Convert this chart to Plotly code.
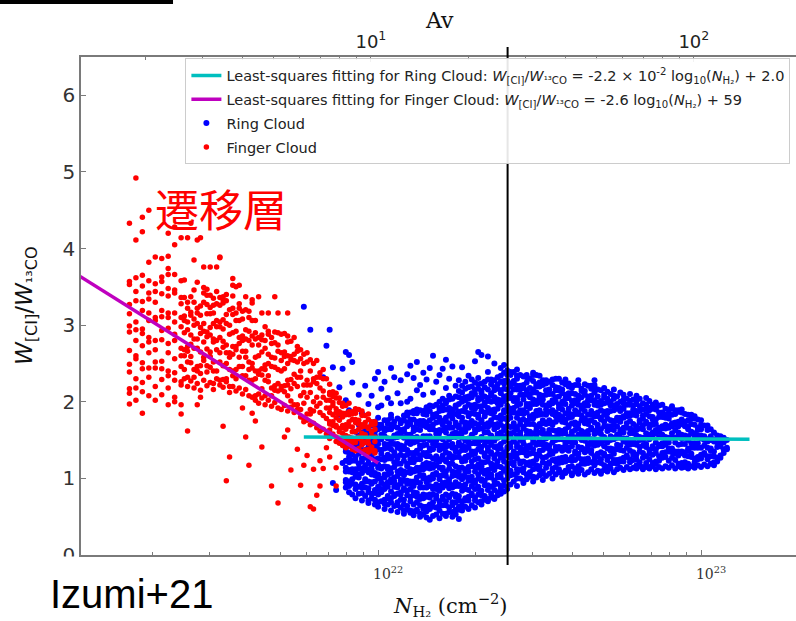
import numpy as np
import plotly.graph_objects as go

# ---------------------------------------------------------------------------
# Data: each column is (log10 N_H2 [cm^-2], W[CI]/W13CO values at that N_H2)
# ---------------------------------------------------------------------------
finger_columns = [
    (21.23, [1.97, 2.11, 2.17, 2.39, 2.49, 2.67, 2.91, 2.99, 3.15, 3.27, 3.53, 3.57, 4.33]),
    (21.25, [2.02, 2.18, 2.30, 2.56, 2.60, 2.80, 2.94, 3.04, 3.32, 3.44, 3.62, 4.92, 4.11]),
    (21.27, [1.85, 2.13, 2.25, 2.43, 2.51, 2.73, 2.89, 2.95, 3.19, 3.31, 3.51, 3.65, 4.22, 4.41]),
    (21.29, [2.08, 2.32, 2.44, 2.64, 2.78, 2.84, 3.06, 3.16, 3.34, 3.42, 3.58, 3.82, 4.50]),
    (21.31, [2.02, 2.20, 2.44, 2.52, 2.68, 2.80, 3.06, 3.10, 3.30, 3.44, 3.54, 3.89]),
    (21.33, [2.09, 2.29, 2.43, 2.53, 2.81, 2.93, 3.11, 3.19, 3.41, 3.57, 3.63, 3.87]),
    (21.35, [1.96, 2.18, 2.34, 2.40, 2.64, 2.76, 2.96, 3.10, 3.16, 3.38, 3.48, 3.66, 3.74, 3.90, 4.20]),
    (21.37, [2.00, 2.06, 2.28, 2.38, 2.56, 2.80, 2.88, 3.04, 3.16, 3.42, 3.46, 3.66, 4.05, 4.28]),
    (21.39, [1.84, 1.96, 2.22, 2.26, 2.46, 2.60, 2.70, 2.98, 3.10, 3.28, 3.36, 3.58, 4.14]),
    (21.40, [2.30, 2.42, 2.60, 2.68, 2.90, 3.06, 3.12, 3.36, 3.59]),
    (21.41, [2.20, 2.32, 2.52, 2.66, 2.72, 2.94, 3.04, 3.22, 3.30, 1.62, 4.14]),
    (21.42, [2.27, 2.51, 2.59, 2.75, 2.87, 3.13, 3.17, 3.37, 4.33]),
    (21.43, [2.18, 2.32, 2.42, 2.70, 2.82, 3.00, 3.08, 3.30, 3.46, 3.85]),
    (21.44, [2.24, 2.40, 2.46, 2.70, 2.82, 3.02, 3.16, 3.22, 1.96, 4.11, 3.56]),
    (21.45, [2.15, 2.37, 2.47, 2.65, 2.89, 2.97, 3.13, 3.25, 2.06, 4.14]),
    (21.46, [2.28, 2.54, 2.58, 2.78, 2.92, 3.02, 3.30, 3.42, 3.76, 3.49]),
    (21.47, [2.21, 2.39, 2.47, 2.69, 2.85, 2.91, 3.15, 3.27, 3.47, 3.39]),
    (21.48, [2.25, 2.45, 2.59, 2.65, 2.87, 2.97, 3.15, 3.23, 3.39, 3.76]),
    (21.49, [2.16, 2.24, 2.40, 2.52, 2.78, 2.82, 3.02, 3.16, 3.26, 3.35]),
    (21.50, [2.30, 2.40, 2.68, 2.80, 2.98, 3.06, 3.28, 3.44, 3.76]),
    (21.51, [2.22, 2.28, 2.52, 2.64, 2.84, 2.98, 3.04, 3.26, 3.36, 3.88, 3.89]),
    (21.52, [2.19, 2.29, 2.47, 2.71, 2.79, 2.95, 3.07, 3.33, 3.37, 1.68, 3.29]),
    (21.53, [2.26, 2.30, 2.50, 2.64, 2.74, 3.02, 3.14, 3.32, 3.40, 0.97]),
    (21.54, [2.12, 2.20, 2.42, 2.58, 2.64, 2.88, 3.00, 3.20, 1.28]),
    (21.55, [2.20, 2.34, 2.40, 2.62, 2.72, 2.90, 3.14, 3.22, 3.38, 3.61, 3.52]),
    (21.56, [2.14, 2.30, 2.42, 2.68, 2.72, 2.92, 3.06, 3.16, 3.50]),
    (21.57, [2.18, 2.46, 2.58, 2.76, 2.84, 3.06, 3.22, 3.28, 3.52]),
    (21.58, [2.10, 2.34, 2.46, 2.66, 2.80, 2.86, 3.08, 3.18, 1.92]),
    (21.59, [2.16, 2.34, 2.58, 2.66, 2.82, 2.94, 3.20, 1.54, 3.37]),
    (21.60, [2.08, 2.28, 2.42, 2.52, 2.80, 2.92, 3.10, 3.18, 1.17]),
    (21.61, [2.06, 2.28, 2.44, 2.50, 2.74, 2.86, 3.06, 1.85, 3.33, 3.29]),
    (21.62, [2.02, 2.08, 2.30, 2.40, 2.58, 2.82, 2.90, 3.06, 1.75]),
    (21.63, [1.98, 2.10, 2.36, 2.40, 2.60, 2.74, 2.84, 3.37]),
    (21.64, [2.05, 2.17, 2.35, 2.43, 2.65, 2.81, 2.87, 1.41, 3.16]),
    (21.65, [1.96, 2.08, 2.28, 2.42, 2.48, 2.70, 2.80, 2.98]),
    (21.66, [2.02, 2.26, 2.34, 2.50, 2.62, 2.88, 2.92, 3.16]),
    (21.67, [1.94, 2.08, 2.18, 2.46, 2.58, 2.76, 2.84, 0.90]),
    (21.68, [1.99, 2.15, 2.21, 2.45, 2.57, 2.77, 2.91, 3.37]),
    (21.69, [1.92, 2.14, 2.24, 2.42, 2.66, 2.74, 2.90, 3.16, 0.68]),
    (21.70, [1.90, 2.16, 2.20, 2.40, 2.54, 2.64, 2.88]),
    (21.71, [1.95, 2.13, 2.21, 2.43, 2.59, 2.65, 2.89, 1.54]),
    (21.72, [1.88, 2.08, 2.22, 2.28, 2.50, 2.60, 2.78, 2.86, 1.63, 3.16]),
    (21.73, [1.93, 2.01, 2.17, 2.29, 2.55, 2.59, 2.79, 1.11]),
    (21.74, [1.86, 1.96, 2.24, 2.36, 2.54, 2.62, 2.84]),
    (21.75, [1.90, 1.96, 2.20, 2.32, 2.52, 2.66, 2.72, 1.38]),
    (21.76, [1.80, 1.90, 2.08, 2.32, 2.40, 2.56, 2.68, 0.91]),
    (21.77, [1.74, 1.78, 1.98, 2.12, 2.22, 2.50, 2.62, 1.17]),
    (21.78, [1.76, 1.84, 2.06, 2.22, 2.28, 2.52, 2.64, 1.30]),
    (21.79, [1.70, 1.84, 1.90, 2.12, 2.22, 2.40, 0.63, 2.55]),
    (21.80, [1.72, 1.88, 2.00, 2.26, 2.30, 2.50, 0.60, 1.12]),
    (21.81, [1.66, 1.94, 2.06, 2.24, 2.32, 2.54, 0.78]),
    (21.82, [1.62, 1.86, 1.98, 2.18, 2.32, 2.38, 0.90, 1.23]),
    (21.83, [1.64, 1.82, 2.06, 2.14, 2.30, 2.42, 1.13]),
    (21.84, [1.58, 1.78, 1.92, 2.02, 2.30, 1.40]),
    (21.85, [1.52, 1.63, 1.71, 1.74, 1.86, 1.92, 2.02, 2.09, 2.12, 2.23, 1.28]),
    (21.86, [1.55, 1.58, 1.69, 1.74, 1.83, 1.95, 1.99, 2.07, 2.13]),
    (21.87, [1.48, 1.54, 1.67, 1.69, 1.79, 1.86, 1.91, 2.05, 2.11, 1.14, 0.90]),
    (21.88, [1.46, 1.52, 1.61, 1.65, 1.76, 1.84, 1.87, 1.99, 2.05]),
    (21.89, [1.43, 1.49, 1.59, 1.66, 1.69, 1.80, 1.85, 1.94, 1.98]),
    (21.90, [1.40, 1.52, 1.56, 1.64, 1.70, 1.83, 1.85, 1.95]),
    (21.91, [1.42, 1.49, 1.54, 1.68, 1.74, 1.83, 1.87, 1.98]),
    (21.92, [1.38, 1.46, 1.49, 1.61, 1.67, 1.77, 1.84, 1.87]),
    (21.93, [1.36, 1.47, 1.52, 1.61, 1.73, 1.77, 1.85, 1.91]),
    (21.94, [1.39, 1.52, 1.54, 1.64, 1.71, 1.76, 1.90]),
    (21.95, [1.35, 1.44, 1.48, 1.59, 1.67, 1.70, 1.82, 1.88]),
    (21.96, [1.37, 1.47, 1.54, 1.57, 1.68, 1.73, 1.82]),
    (21.97, [1.34, 1.38, 1.46, 1.52, 1.65, 1.67, 1.77, 1.84]),
    (21.98, [1.36, 1.41, 1.55, 1.61, 1.70, 1.74]),
    (21.99, [1.33, 1.36, 1.48, 1.54, 1.64, 1.71, 1.74]),
]

ring_columns = [
    (21.77, [3.24]),
    (21.79, [2.94]),
    (21.83, [2.32]),
    (21.84, [2.73]),
    (21.85, [2.94, 1.55]),
    (21.86, [2.45, 0.94]),
    (21.87, [0.85]),
    (21.88, [2.19, 1.83]),
    (21.89, [2.43, 1.20]),
    (21.90, [0.88, 0.95, 0.98, 1.09, 1.14, 1.23, 1.35, 1.39, 1.47, 1.53, 2.65, 2.02]),
    (21.91, [0.82, 0.90, 0.96, 1.09, 1.11, 1.21, 1.28, 1.33, 1.47, 1.53, 2.61, 1.89]),
    (21.92, [0.79, 0.93, 0.99, 1.08, 1.12, 1.23, 1.31, 1.34, 1.46, 1.52, 2.52, 2.25]),
    (21.93, [0.74, 0.86, 0.92, 1.02, 1.09, 1.12, 1.23, 1.28, 1.37, 1.41, 1.49, 1.61]),
    (21.94, [0.80, 0.89, 1.01, 1.05, 1.13, 1.19, 1.32, 1.34, 1.44, 1.51, 1.56, 1.70, 2.09]),
    (21.95, [0.71, 0.81, 0.88, 0.93, 1.07, 1.13, 1.22, 1.26, 1.37, 1.45, 1.48, 1.60, 1.85]),
    (21.96, [0.77, 0.88, 0.96, 0.99, 1.11, 1.17, 1.27, 1.34, 1.37, 1.48, 1.53, 1.62, 1.66, 2.21]),
    (21.97, [0.68, 0.71, 0.82, 0.87, 0.96, 1.08, 1.12, 1.20, 1.26, 1.39, 1.41, 1.51, 1.58, 1.63, 1.97]),
    (21.98, [0.74, 0.80, 0.93, 0.95, 1.05, 1.12, 1.17, 1.31, 1.37, 1.46, 1.50, 1.61, 1.69, 1.72, 2.08]),
    (21.99, [0.66, 0.72, 0.81, 0.85, 0.96, 1.04, 1.07, 1.19, 1.25, 1.35, 1.42, 1.45, 1.56, 1.61, 1.70, 1.74, 2.30]),
    (22.00, [0.63, 0.69, 0.79, 0.86, 0.89, 1.00, 1.05, 1.14, 1.18, 1.26, 1.38, 1.45, 1.50, 1.64, 1.70, 1.79, 2.39, 1.93]),
    (22.01, [0.70, 0.82, 0.86, 0.94, 1.00, 1.13, 1.15, 1.25, 1.32, 1.37, 1.51, 1.57, 1.66, 1.70, 2.17, 1.95]),
    (22.02, [0.60, 0.67, 0.72, 0.86, 0.92, 1.01, 1.05, 1.16, 1.24, 1.27, 1.39, 1.45, 1.55, 1.62, 1.65, 1.76, 2.26]),
    (22.03, [0.66, 0.74, 0.77, 0.89, 0.95, 1.05, 1.12, 1.15, 1.26, 1.31, 1.40, 1.44, 1.52, 1.64, 1.71, 1.76, 2.05]),
    (22.04, [0.58, 0.69, 0.74, 0.83, 0.95, 0.99, 1.07, 1.13, 1.26, 1.28, 1.38, 1.45, 1.50, 1.64, 1.70, 1.79, 1.83, 2.44, 1.98]),
    (22.05, [0.64, 0.77, 0.79, 0.89, 0.96, 1.01, 1.15, 1.21, 1.30, 1.34, 1.45, 1.53, 1.56, 1.68, 1.74, 2.32]),
    (22.06, [0.56, 0.65, 0.69, 0.80, 0.88, 0.91, 1.03, 1.09, 1.19, 1.26, 1.29, 1.40, 1.45, 1.54, 1.58, 1.66, 1.78, 2.11]),
    (22.07, [0.62, 0.72, 0.79, 0.82, 0.93, 0.98, 1.07, 1.11, 1.19, 1.31, 1.38, 1.43, 1.57, 1.63, 1.72, 1.76, 1.98, 2.28]),
    (22.08, [0.54, 0.58, 0.66, 0.72, 0.85, 0.87, 0.97, 1.04, 1.09, 1.23, 1.29, 1.38, 1.42, 1.53, 1.61, 1.64, 1.76, 1.82]),
    (22.09, [0.59, 0.64, 0.78, 0.84, 0.93, 0.97, 1.08, 1.16, 1.19, 1.31, 1.37, 1.47, 1.54, 1.57, 1.68, 1.73, 1.82, 1.86, 2.00, 2.36]),
    (22.10, [0.55, 0.58, 0.70, 0.76, 0.86, 0.93, 0.96, 1.07, 1.12, 1.21, 1.25, 1.33, 1.45, 1.52, 1.57, 1.71, 1.77, 1.86, 2.04, 2.47]),
    (22.11, [0.52, 0.57, 0.66, 0.78, 0.82, 0.90, 0.96, 1.09, 1.11, 1.21, 1.28, 1.33, 1.47, 1.53, 1.62, 1.66, 1.77, 1.85, 1.88, 2.31]),
    (22.12, [0.57, 0.59, 0.69, 0.76, 0.81, 0.95, 1.01, 1.10, 1.14, 1.25, 1.33, 1.36, 1.48, 1.54, 1.64, 1.71, 1.74, 1.85, 1.90, 2.15, 2.52]),
    (22.13, [0.50, 0.54, 0.65, 0.73, 0.76, 0.88, 0.94, 1.04, 1.11, 1.14, 1.25, 1.30, 1.39, 1.43, 1.51, 1.63, 1.70, 1.75, 1.89, 2.22]),
    (22.14, [0.53, 0.60, 0.63, 0.74, 0.79, 0.88, 1.00, 1.04, 1.12, 1.18, 1.31, 1.33, 1.43, 1.50, 1.55, 1.69, 1.75, 1.84, 1.88, 2.38, 2.09]),
    (22.15, [0.49, 0.57, 0.63, 0.76, 0.78, 0.88, 0.95, 1.00, 1.14, 1.20, 1.29, 1.33, 1.44, 1.52, 1.55, 1.67, 1.73, 1.83, 1.90, 1.93, 2.29]),
    (22.16, [0.46, 0.60, 0.66, 0.75, 0.79, 0.90, 0.98, 1.01, 1.13, 1.19, 1.29, 1.36, 1.39, 1.50, 1.55, 1.64, 1.68, 1.76, 1.88, 1.95, 2.44]),
    (22.17, [0.51, 0.63, 0.69, 0.79, 0.86, 0.89, 1.00, 1.05, 1.14, 1.18, 1.26, 1.38, 1.45, 1.50, 1.64, 1.70, 1.79, 1.83, 1.94, 2.12, 2.60]),
    (22.18, [0.53, 0.62, 0.74, 0.78, 0.86, 0.92, 1.05, 1.07, 1.17, 1.24, 1.29, 1.43, 1.49, 1.58, 1.62, 1.73, 1.81, 1.84, 1.96, 2.26]),
    (22.19, [0.48, 0.58, 0.65, 0.70, 0.84, 0.90, 0.99, 1.03, 1.14, 1.22, 1.25, 1.37, 1.43, 1.53, 1.60, 1.63, 1.74, 1.79, 1.88, 1.92, 2.00, 2.35]),
    (22.20, [0.54, 0.65, 0.73, 0.76, 0.88, 0.94, 1.04, 1.11, 1.14, 1.25, 1.30, 1.39, 1.43, 1.51, 1.63, 1.70, 1.75, 1.89, 1.95, 2.04, 2.43]),
    (22.21, [0.51, 0.54, 0.65, 0.70, 0.79, 0.91, 0.95, 1.03, 1.09, 1.22, 1.24, 1.34, 1.41, 1.46, 1.60, 1.66, 1.75, 1.79, 1.90, 1.98, 2.01, 2.18, 2.55]),
    (22.22, [0.56, 0.62, 0.75, 0.77, 0.87, 0.94, 0.99, 1.13, 1.19, 1.28, 1.32, 1.43, 1.51, 1.54, 1.66, 1.72, 1.82, 1.89, 1.92, 2.03, 2.08, 2.30]),
    (22.23, [0.50, 0.56, 0.65, 0.69, 0.80, 0.88, 0.91, 1.03, 1.09, 1.19, 1.26, 1.29, 1.40, 1.45, 1.54, 1.58, 1.66, 1.78, 1.85, 1.90, 2.04, 2.46]),
    (22.24, [0.53, 0.59, 0.69, 0.76, 0.79, 0.90, 0.95, 1.04, 1.08, 1.16, 1.28, 1.35, 1.40, 1.54, 1.60, 1.69, 1.73, 1.84, 1.92, 1.95, 2.07, 2.21]),
    (22.25, [0.47, 0.59, 0.63, 0.71, 0.77, 0.90, 0.92, 1.02, 1.09, 1.14, 1.28, 1.34, 1.43, 1.47, 1.58, 1.66, 1.69, 1.81, 1.87, 1.97, 2.06, 2.14, 2.28]),
    (22.26, [0.58, 0.65, 0.70, 0.84, 0.90, 0.99, 1.03, 1.14, 1.22, 1.25, 1.37, 1.43, 1.53, 1.60, 1.63, 1.74, 1.79, 1.88, 2.00, 2.04, 2.12, 2.21, 2.45]),
    (22.27, [0.63, 0.71, 0.74, 0.86, 0.92, 1.02, 1.09, 1.12, 1.23, 1.28, 1.37, 1.41, 1.49, 1.61, 1.68, 1.73, 1.87, 1.93, 2.02, 2.06, 2.17, 2.26]),
    (22.28, [0.60, 0.71, 0.76, 0.85, 0.97, 1.01, 1.09, 1.15, 1.28, 1.30, 1.40, 1.47, 1.52, 1.66, 1.72, 1.81, 1.85, 1.96, 2.04, 2.07, 2.19, 2.34]),
    (22.29, [0.65, 0.78, 0.80, 0.90, 0.97, 1.02, 1.16, 1.22, 1.31, 1.35, 1.46, 1.54, 1.57, 1.69, 1.75, 1.85, 1.92, 1.95, 2.06, 2.11, 2.20, 2.29]),
    (22.30, [0.62, 0.71, 0.75, 0.86, 0.94, 0.97, 1.09, 1.15, 1.25, 1.32, 1.35, 1.46, 1.51, 1.60, 1.64, 1.72, 1.84, 1.91, 1.96, 2.10, 2.16, 2.25, 2.53]),
    (22.31, [0.69, 0.79, 0.86, 0.89, 1.00, 1.05, 1.14, 1.18, 1.26, 1.38, 1.45, 1.50, 1.64, 1.70, 1.79, 1.83, 1.94, 2.02, 2.05, 2.17, 2.23, 2.31, 2.65]),
    (22.32, [0.66, 0.70, 0.78, 0.84, 0.97, 0.99, 1.09, 1.16, 1.21, 1.35, 1.41, 1.50, 1.54, 1.65, 1.73, 1.76, 1.88, 1.94, 2.04, 2.11, 2.14, 2.24, 2.61]),
    (22.33, [0.72, 0.77, 0.91, 0.97, 1.06, 1.10, 1.21, 1.29, 1.32, 1.44, 1.50, 1.60, 1.67, 1.70, 1.81, 1.86, 1.95, 1.99, 2.07, 2.19, 2.26]),
    (22.34, [0.70, 0.73, 0.85, 0.91, 1.01, 1.08, 1.11, 1.22, 1.27, 1.36, 1.40, 1.48, 1.60, 1.67, 1.72, 1.86, 1.92, 2.01, 2.05, 2.16, 2.29, 2.39, 2.59]),
    (22.35, [0.75, 0.80, 0.89, 1.01, 1.05, 1.13, 1.19, 1.32, 1.34, 1.44, 1.51, 1.56, 1.70, 1.76, 1.85, 1.89, 2.00, 2.08, 2.11, 2.23, 2.29]),
    (22.36, [0.73, 0.75, 0.85, 0.92, 0.97, 1.11, 1.17, 1.26, 1.30, 1.41, 1.49, 1.52, 1.64, 1.70, 1.80, 1.87, 1.90, 2.01, 2.06, 2.15, 2.19, 2.28, 2.50]),
    (22.37, [0.78, 0.82, 0.93, 1.01, 1.04, 1.16, 1.22, 1.32, 1.39, 1.42, 1.53, 1.58, 1.67, 1.71, 1.79, 1.91, 1.98, 2.03, 2.17, 2.23, 2.32]),
    (22.38, [0.80, 0.87, 0.90, 1.01, 1.06, 1.15, 1.27, 1.31, 1.39, 1.45, 1.58, 1.60, 1.70, 1.77, 1.82, 1.96, 2.02, 2.11, 2.15, 2.26, 2.34, 2.44]),
    (22.39, [0.83, 0.91, 0.97, 1.10, 1.12, 1.22, 1.29, 1.34, 1.48, 1.54, 1.63, 1.67, 1.78, 1.86, 1.89, 2.01, 2.07, 2.17, 2.24, 2.27, 2.38, 2.48]),
    (22.40, [0.86, 1.00, 1.06, 1.15, 1.19, 1.30, 1.38, 1.41, 1.53, 1.59, 1.69, 1.76, 1.79, 1.90, 1.95, 2.04, 2.08, 2.16, 2.28, 2.35, 2.41]),
    (22.41, [0.92, 1.04, 1.10, 1.20, 1.27, 1.30, 1.41, 1.46, 1.55, 1.59, 1.67, 1.79, 1.86, 1.91, 2.05, 2.11, 2.20, 2.24, 2.35, 2.39]),
    (22.42, [0.96, 1.05, 1.17, 1.21, 1.29, 1.35, 1.48, 1.50, 1.60, 1.67, 1.72, 1.86, 1.92, 2.01, 2.05, 2.16, 2.24, 2.27, 2.39]),
    (22.43, [0.90, 1.00, 1.07, 1.12, 1.26, 1.32, 1.41, 1.45, 1.56, 1.64, 1.67, 1.79, 1.85, 1.95, 2.02, 2.05, 2.16, 2.21, 2.30, 2.34, 2.42]),
    (22.44, [1.00, 1.11, 1.19, 1.22, 1.34, 1.40, 1.50, 1.57, 1.60, 1.71, 1.76, 1.85, 1.89, 1.97, 2.09, 2.16, 2.21, 2.35]),
    (22.45, [0.94, 0.97, 1.08, 1.13, 1.22, 1.34, 1.38, 1.46, 1.52, 1.65, 1.67, 1.77, 1.84, 1.89, 2.03, 2.09, 2.18, 2.22, 2.33]),
    (22.46, [0.99, 1.05, 1.18, 1.20, 1.30, 1.37, 1.42, 1.56, 1.62, 1.71, 1.75, 1.86, 1.94, 1.97, 2.09, 2.15, 2.25, 2.32, 2.35]),
    (22.47, [1.02, 1.08, 1.17, 1.21, 1.32, 1.40, 1.43, 1.55, 1.61, 1.71, 1.78, 1.81, 1.92, 1.97, 2.06, 2.10, 2.18, 2.30]),
    (22.48, [0.96, 1.02, 1.12, 1.19, 1.22, 1.33, 1.38, 1.47, 1.51, 1.59, 1.71, 1.78, 1.83, 1.97, 2.03, 2.12, 2.16, 2.27, 2.35, 2.38]),
    (22.49, [1.01, 1.13, 1.17, 1.25, 1.31, 1.44, 1.46, 1.56, 1.63, 1.68, 1.82, 1.88, 1.97, 2.01, 2.12, 2.20, 2.23, 2.35]),
    (22.50, [1.04, 1.11, 1.16, 1.30, 1.36, 1.45, 1.49, 1.60, 1.68, 1.71, 1.83, 1.89, 1.99, 2.06, 2.09, 2.20, 2.25, 2.34]),
    (22.51, [0.98, 1.06, 1.09, 1.21, 1.27, 1.37, 1.44, 1.47, 1.58, 1.63, 1.72, 1.76, 1.84, 1.96, 2.03, 2.08, 2.22, 2.28]),
    (22.52, [1.03, 1.14, 1.19, 1.28, 1.40, 1.44, 1.52, 1.58, 1.71, 1.73, 1.83, 1.90, 1.95, 2.09, 2.15, 2.24, 2.28]),
    (22.53, [1.06, 1.19, 1.21, 1.31, 1.38, 1.43, 1.57, 1.63, 1.72, 1.76, 1.87, 1.95, 1.98, 2.10, 2.16, 2.26]),
    (22.54, [1.00, 1.09, 1.13, 1.24, 1.32, 1.35, 1.47, 1.53, 1.63, 1.70, 1.73, 1.84, 1.89, 1.98, 2.02, 2.10, 2.22, 2.29]),
    (22.55, [1.05, 1.15, 1.22, 1.25, 1.36, 1.41, 1.50, 1.54, 1.62, 1.74, 1.81, 1.86, 2.00, 2.06, 2.15, 2.19, 2.30]),
    (22.56, [1.08, 1.12, 1.20, 1.26, 1.39, 1.41, 1.51, 1.58, 1.63, 1.77, 1.83, 1.92, 1.96, 2.07, 2.15, 2.18, 2.30]),
    (22.57, [1.02, 1.07, 1.21, 1.27, 1.36, 1.40, 1.51, 1.59, 1.62, 1.74, 1.80, 1.90, 1.97, 2.00, 2.11, 2.16, 2.25]),
    (22.58, [1.07, 1.10, 1.22, 1.28, 1.38, 1.45, 1.48, 1.59, 1.64, 1.73, 1.77, 1.85, 1.97, 2.04, 2.09, 2.23, 2.29]),
    (22.59, [1.10, 1.15, 1.24, 1.36, 1.40, 1.48, 1.54, 1.67, 1.69, 1.79, 1.86, 1.91, 2.05, 2.11, 2.20, 2.24]),
    (22.60, [1.04, 1.06, 1.16, 1.23, 1.28, 1.42, 1.48, 1.57, 1.61, 1.72, 1.80, 1.83, 1.95, 2.01, 2.11, 2.18, 2.21]),
    (22.61, [1.09, 1.13, 1.24, 1.32, 1.35, 1.47, 1.53, 1.63, 1.70, 1.73, 1.84, 1.89, 1.98, 2.02, 2.10, 2.22]),
    (22.62, [1.06, 1.13, 1.16, 1.27, 1.32, 1.41, 1.53, 1.57, 1.65, 1.71, 1.84, 1.86, 1.96, 2.03, 2.08, 2.22, 2.28]),
    (22.63, [1.11, 1.19, 1.25, 1.38, 1.40, 1.50, 1.57, 1.62, 1.76, 1.82, 1.91, 1.95, 2.06, 2.14, 2.17]),
    (22.64, [1.05, 1.19, 1.25, 1.34, 1.38, 1.49, 1.57, 1.60, 1.72, 1.78, 1.88, 1.95, 1.98, 2.09, 2.14, 2.23]),
    (22.65, [1.08, 1.20, 1.26, 1.36, 1.43, 1.46, 1.57, 1.62, 1.71, 1.75, 1.83, 1.95, 2.02, 2.07, 2.21]),
    (22.66, [1.12, 1.21, 1.33, 1.37, 1.45, 1.51, 1.64, 1.66, 1.76, 1.83, 1.88, 2.02, 2.08, 2.17, 2.21]),
    (22.67, [1.07, 1.17, 1.24, 1.29, 1.43, 1.49, 1.58, 1.62, 1.73, 1.81, 1.84, 1.96, 2.02, 2.12, 2.19, 2.22, 2.28]),
    (22.68, [1.10, 1.21, 1.29, 1.32, 1.44, 1.50, 1.60, 1.67, 1.70, 1.81, 1.86, 1.95, 1.99, 2.07, 2.16]),
    (22.69, [1.06, 1.09, 1.20, 1.25, 1.34, 1.46, 1.50, 1.58, 1.64, 1.77, 1.79, 1.89, 1.96, 2.01, 2.15]),
    (22.70, [1.11, 1.17, 1.30, 1.32, 1.42, 1.49, 1.54, 1.68, 1.74, 1.83, 1.87, 1.98, 2.06, 2.09, 2.18]),
    (22.71, [1.09, 1.15, 1.24, 1.28, 1.39, 1.47, 1.50, 1.62, 1.68, 1.78, 1.85, 1.88, 1.99, 2.04, 2.13]),
    (22.72, [1.13, 1.19, 1.29, 1.36, 1.39, 1.50, 1.55, 1.64, 1.68, 1.76, 1.88, 1.95, 2.00, 2.10]),
    (22.73, [1.08, 1.20, 1.24, 1.32, 1.38, 1.51, 1.53, 1.63, 1.70, 1.75, 1.89, 1.95, 2.04, 2.08, 2.16]),
    (22.74, [1.12, 1.19, 1.24, 1.38, 1.44, 1.53, 1.57, 1.68, 1.76, 1.79, 1.91, 1.97, 2.07]),
    (22.75, [1.14, 1.22, 1.25, 1.37, 1.43, 1.53, 1.60, 1.63, 1.74, 1.79, 1.88, 1.92, 2.00, 2.12]),
    (22.76, [1.11, 1.22, 1.27, 1.36, 1.48, 1.52, 1.60, 1.66, 1.79, 1.81, 1.91, 1.98, 2.03, 2.09]),
    (22.77, [1.15, 1.28, 1.30, 1.40, 1.47, 1.52, 1.66, 1.72, 1.81, 1.85, 1.96, 2.04]),
    (22.78, [1.12, 1.21, 1.25, 1.36, 1.44, 1.47, 1.59, 1.65, 1.75, 1.82, 1.85, 1.96, 2.01, 2.10]),
    (22.79, [1.14, 1.24, 1.31, 1.34, 1.45, 1.50, 1.59, 1.63, 1.71, 1.83, 1.90, 1.95, 2.03]),
    (22.80, [1.13, 1.17, 1.25, 1.31, 1.44, 1.46, 1.56, 1.63, 1.68, 1.82, 1.88, 1.97, 2.01, 2.08]),
    (22.81, [1.16, 1.21, 1.35, 1.41, 1.50, 1.54, 1.65, 1.73, 1.76, 1.88, 1.94, 2.04]),
    (22.82, [1.12, 1.15, 1.27, 1.33, 1.43, 1.50, 1.53, 1.64, 1.69, 1.78, 1.82, 1.90, 1.98]),
    (22.83, [1.15, 1.20, 1.29, 1.41, 1.45, 1.53, 1.59, 1.72, 1.74, 1.84, 1.91, 1.96, 2.05]),
    (22.84, [1.13, 1.15, 1.25, 1.32, 1.37, 1.51, 1.57, 1.66, 1.70, 1.81, 1.89, 1.92, 2.01]),
    (22.85, [1.16, 1.20, 1.31, 1.39, 1.42, 1.54, 1.60, 1.70, 1.77, 1.80, 1.91, 1.96]),
    (22.86, [1.12, 1.19, 1.22, 1.33, 1.38, 1.47, 1.59, 1.63, 1.71, 1.77, 1.90, 1.92, 1.99]),
    (22.87, [1.15, 1.23, 1.29, 1.42, 1.44, 1.54, 1.61, 1.66, 1.80, 1.86, 1.95]),
    (22.88, [1.13, 1.27, 1.33, 1.42, 1.46, 1.57, 1.65, 1.68, 1.80, 1.86, 1.96]),
    (22.89, [1.16, 1.28, 1.34, 1.44, 1.51, 1.54, 1.65, 1.70, 1.79, 1.83, 1.91]),
    (22.90, [1.14, 1.23, 1.35, 1.39, 1.47, 1.53, 1.66, 1.68, 1.78, 1.85, 1.90]),
    (22.91, [1.17, 1.27, 1.34, 1.39, 1.53, 1.59, 1.68, 1.72, 1.83, 1.91, 1.94]),
    (22.92, [1.13, 1.24, 1.32, 1.35, 1.47, 1.53, 1.63, 1.70, 1.73, 1.84, 1.89]),
    (22.93, [1.16, 1.19, 1.30, 1.35, 1.44, 1.56, 1.60, 1.68, 1.74, 1.87, 1.89]),
    (22.94, [1.14, 1.20, 1.33, 1.35, 1.45, 1.52, 1.57, 1.71, 1.77, 1.86, 1.90]),
    (22.95, [1.15, 1.21, 1.30, 1.34, 1.45, 1.53, 1.56, 1.68, 1.74, 1.84]),
    (22.96, [1.13, 1.19, 1.29, 1.36, 1.39, 1.50, 1.55, 1.64, 1.68, 1.76, 1.83]),
    (22.97, [1.16, 1.28, 1.32, 1.40, 1.46, 1.59, 1.61, 1.71, 1.78, 1.83]),
    (22.98, [1.14, 1.21, 1.26, 1.40, 1.46, 1.55, 1.59, 1.70, 1.78, 1.81]),
    (22.99, [1.17, 1.25, 1.28, 1.40, 1.46, 1.56, 1.63, 1.66, 1.77]),
    (23.00, [1.15, 1.26, 1.31, 1.40, 1.52, 1.56, 1.64, 1.70, 1.76]),
    (23.01, [1.18, 1.31, 1.33, 1.43, 1.50, 1.55, 1.69]),
    (23.02, [1.16, 1.25, 1.29, 1.40, 1.48, 1.51, 1.63, 1.69]),
    (23.03, [1.19, 1.29, 1.36, 1.39, 1.50, 1.55, 1.64]),
    (23.04, [1.17, 1.21, 1.29, 1.35, 1.48, 1.50, 1.60]),
    (23.05, [1.22, 1.27, 1.41, 1.47, 1.56]),
    (23.06, [1.27, 1.30, 1.42, 1.48, 1.55]),
    (23.07, [1.33, 1.38, 1.47, 1.53]),
    (23.08, [1.38, 1.40, 1.50]),
]

# Least-squares fits: ratio = slope * log10(N_H2) + intercept
ring_fit = {"slope": -0.022, "intercept": 2.02, "int_digits": 1, "logN": [21.77, 23.15]}
finger_fit = {"slope": -2.64, "intercept": 59.28, "int_digits": 0, "logN": [21.00, 22.00]}

# Column density per unit visual extinction (N_H2 / Av), used for the top axis
NH2_PER_AV = 9.5e20
# Av value marked by the vertical line
AV_MARK = 26.5

X_RANGE_LOG = [21.08, 23.294]
Y_RANGE = [0, 6.5]

BLUE = "#0000ff"
RED = "#ff0000"
CYAN = "#00bfbf"
MAGENTA = "#bf00bf"
AXIS_GREY = "#7a7a7a"


def flatten(columns):
    xs, ys = [], []
    for logn, vals in columns:
        for v in vals:
            xs.append(10 ** logn)
            ys.append(v)
    return xs, ys


def fit_line(fit):
    xs = [10 ** a for a in fit["logN"]]
    ys = [fit["slope"] * a + fit["intercept"] for a in fit["logN"]]
    return xs, ys


def coef_text(v):
    e = int(np.floor(np.log10(abs(v))))
    if e >= -1:
        return f"{v:.1f}"
    return f"{v / 10 ** e:.1f} × 10<sup>{e}</sup>"


RATIO = "<i>W</i><sub>[CI]</sub>/<i>W</i><sub>¹³CO</sub>"
NH2 = "<i>N</i><sub>H₂</sub>"


def fit_label(name, fit):
    b = f"{fit['intercept']:.{fit['int_digits']}f}"
    return (f"Least-squares fitting for {name}: {RATIO} = "
            f"{coef_text(fit['slope'])} log<sub>10</sub>({NH2}) + {b}")


ring_x, ring_y = flatten(ring_columns)
finger_x, finger_y = flatten(finger_columns)
rfx, rfy = fit_line(ring_fit)
ffx, ffy = fit_line(finger_fit)

fig = go.Figure()

fig.add_trace(go.Scatter(
    x=ring_x, y=ring_y, mode="markers", name="Ring Cloud",
    marker=dict(color=BLUE, size=6, line=dict(width=0)),
    legendrank=3, legendgroup="g3",
))
fig.add_trace(go.Scatter(
    x=finger_x, y=finger_y, mode="markers", name="Finger Cloud",
    marker=dict(color=RED, size=5.5, line=dict(width=0)),
    legendrank=4, legendgroup="g4",
))
fig.add_trace(go.Scatter(
    x=rfx, y=rfy, mode="lines", name=fit_label("Ring Cloud", ring_fit),
    line=dict(color=CYAN, width=3.5), legendrank=1, legendgroup="g1",
))
fig.add_trace(go.Scatter(
    x=ffx, y=ffy, mode="lines", name=fit_label("Finger Cloud", finger_fit),
    line=dict(color=MAGENTA, width=3.5), legendrank=2, legendgroup="g2",
))
# carrier trace for the Av axis on top
fig.add_trace(go.Scatter(
    x=[10, 100], y=[None, None], xaxis="x2", mode="markers",
    showlegend=False, hoverinfo="skip",
))

minor_n = [k * 10.0 ** d for d in (21, 22) for k in range(2, 10)]
minor_av = [k * 10.0 ** d for d in (0, 1) for k in range(2, 10)]
av_log = np.log10(NH2_PER_AV)

axis_common = dict(
    showline=True, linecolor=AXIS_GREY, linewidth=1.5, showgrid=False,
    zeroline=False, ticks="inside", ticklen=5, tickwidth=1, tickcolor=AXIS_GREY,
)

fig.update_layout(
    width=796, height=621,
    margin=dict(l=81, r=0, t=57, b=66),
    paper_bgcolor="white", plot_bgcolor="white",
    showlegend=True,
    xaxis=dict(
        type="log", range=X_RANGE_LOG,
        tickvals=[1e22, 1e23], ticktext=["10<sup>22</sup>", "10<sup>23</sup>"],
        tickfont=dict(family="DejaVu Serif", size=14, color="#333"),
        ticklabelshift=10, ticklabelstandoff=5,
        minor=dict(tickvals=minor_n, ticks="inside", ticklen=3, tickcolor=AXIS_GREY),
        **axis_common,
    ),
    xaxis2=dict(
        type="log", overlaying="x", side="top", anchor="y",
        range=[X_RANGE_LOG[0] - av_log, X_RANGE_LOG[1] - av_log],
        tickvals=[10, 100], ticktext=["10<sup>1</sup>", "10<sup>2</sup>"],
        tickfont=dict(family="DejaVu Sans", size=18, color="#222"),
        minor=dict(tickvals=minor_av, ticks="inside", ticklen=3, tickcolor=AXIS_GREY),
        **axis_common,
    ),
    yaxis=dict(
        range=Y_RANGE, tickvals=[0, 1, 2, 3, 4, 5, 6],
        tickfont=dict(family="DejaVu Sans", size=20, color="#333"),
        **axis_common,
    ),
    legend=dict(
        x=0.146, y=0.997, xanchor="left", yanchor="top",
        bgcolor="rgba(255,255,255,0.9)", bordercolor="#cccccc", borderwidth=1,
        font=dict(family="DejaVu Sans", size=14.5, color="#222"),
        tracegroupgap=2, itemwidth=30,
    ),
    shapes=[
        # Av marker line, extending past both axes
        dict(type="line", xref="x", yref="paper",
             x0=AV_MARK * NH2_PER_AV, x1=AV_MARK * NH2_PER_AV, y0=-0.02, y1=1.02,
             line=dict(color="black", width=2)),
        # heading bar in the top-left corner
        dict(type="rect", xref="paper", yref="paper",
             x0=-0.1133, x1=0.1287, y0=1.1065, y1=1.1145,
             fillcolor="black", line=dict(width=0)),
        # blank strip below the y axis, trimming the lower half of the "0" label
        dict(type="rect", xref="paper", yref="paper", layer="above",
             x0=-0.1133, x1=-0.004, y0=-0.14, y1=-0.003,
             fillcolor="white", line=dict(width=0)),
    ],
    annotations=[
        dict(text="Av", xref="paper", yref="paper", x=0.502, y=1.074,
             xanchor="center", yanchor="middle", showarrow=False,
             font=dict(family="DejaVu Serif", size=22, color="#111")),
        dict(text=f"{NH2} (cm<sup>−2</sup>)", xref="paper", yref="paper",
             x=0.516, y=-0.1, xanchor="center", yanchor="middle", showarrow=False,
             font=dict(family="DejaVu Serif", size=21, color="#111")),
        dict(text=RATIO, xref="paper", yref="paper", x=-0.077, y=0.502,
             xanchor="center", yanchor="middle", textangle=-90, showarrow=False,
             font=dict(family="DejaVu Sans", size=23, color="#111")),
        dict(text="遷移層", xref="paper", yref="paper", x=0.196, y=0.697,
             xanchor="center", yanchor="middle", showarrow=False,
             font=dict(family="Noto Sans CJK JP", size=44, color=RED)),
        dict(text="Izumi+21", xref="paper", yref="paper", x=0.0713, y=-0.079,
             xanchor="center", yanchor="middle", showarrow=False,
             font=dict(family="Liberation Sans", size=40, color="black")),
    ],
)

fig.write_html("out.html")
